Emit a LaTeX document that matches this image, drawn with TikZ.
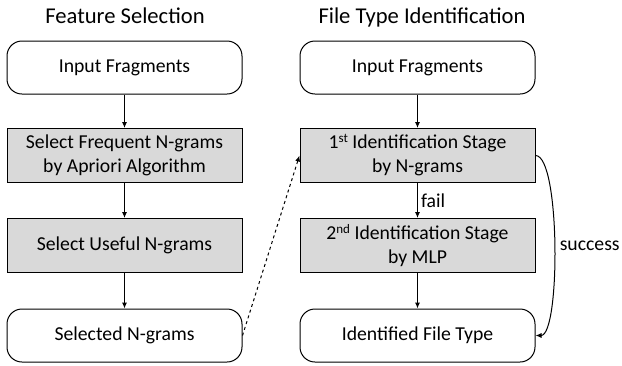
\documentclass[tikz,border=0pt]{standalone}
\usepackage{fontspec}
\setmainfont{Carlito}
\usetikzlibrary{arrows.meta}
\definecolor{boxgray}{HTML}{D9D9D9}
\definecolor{ink}{HTML}{000000}
\begin{document}
\begin{tikzpicture}[x=1pt,y=-1pt,
  every node/.style={text=ink, font=\fontsize{19.7}{24}\selectfont},
  termbox/.style={draw=ink, line width=1pt, rounded corners=15pt, fill=white,
    minimum width=235pt, minimum height=53pt, align=center, inner sep=0pt},
  procbox/.style={draw=ink, line width=1pt, fill=boxgray,
    minimum width=235pt, minimum height=54pt, align=center, inner sep=0pt},
  titletext/.style={font=\fontsize{22.6}{26}\selectfont, anchor=base},
  conn/.style={draw=ink, line width=1pt, -{Latex[length=6pt,width=5pt]}},
  lbl/.style={inner sep=3pt}
]
\useasboundingbox (0,0) rectangle (622,365);

\node[titletext] (t1) at (125,23) {Feature Selection};
\node[titletext] (t2) at (422,23) {File Type Identification};

\node[termbox] (in1) at (124.5,67.5) {Input Fragments};
\node[procbox] (fs1) at (124.5,155.5) {Select Frequent N-grams\\by Apriori Algorithm};
\node[procbox] (fs2) at (124.5,245.5) {Select Useful N-grams};
\node[termbox] (sel) at (124.5,335.5) {Selected N-grams};

\node[termbox] (in2) at (417.5,67.5) {Input Fragments};
\node[procbox] (id1) at (417.5,155.5) {1{\fontsize{13}{14}\selectfont\raisebox{6pt}{st}} Identification Stage\\by N-grams};
\node[procbox] (id2) at (417.5,245.5) {2{\fontsize{13}{14}\selectfont\raisebox{6pt}{nd}} Identification Stage\\by MLP};
\node[termbox] (out) at (417.5,335.5) {Identified File Type};

\draw[conn] (in1) -- (fs1);
\draw[conn] (fs1) -- (fs2);
\draw[conn] (fs2) -- (sel);

\draw[conn] (in2) -- (id1);
\draw[conn] (id1) -- node[right, lbl] (fail) {fail} (id2);
\draw[conn] (id2) -- (out);

\draw[conn, dashed] (sel.east) -- (id1.west);

\draw[conn] (id1.east) .. controls ++(25,0) and ++(25,0) .. node[pos=0.5, right, inner sep=5pt] (succ) {success} (out.east);
\end{tikzpicture}
\end{document}
